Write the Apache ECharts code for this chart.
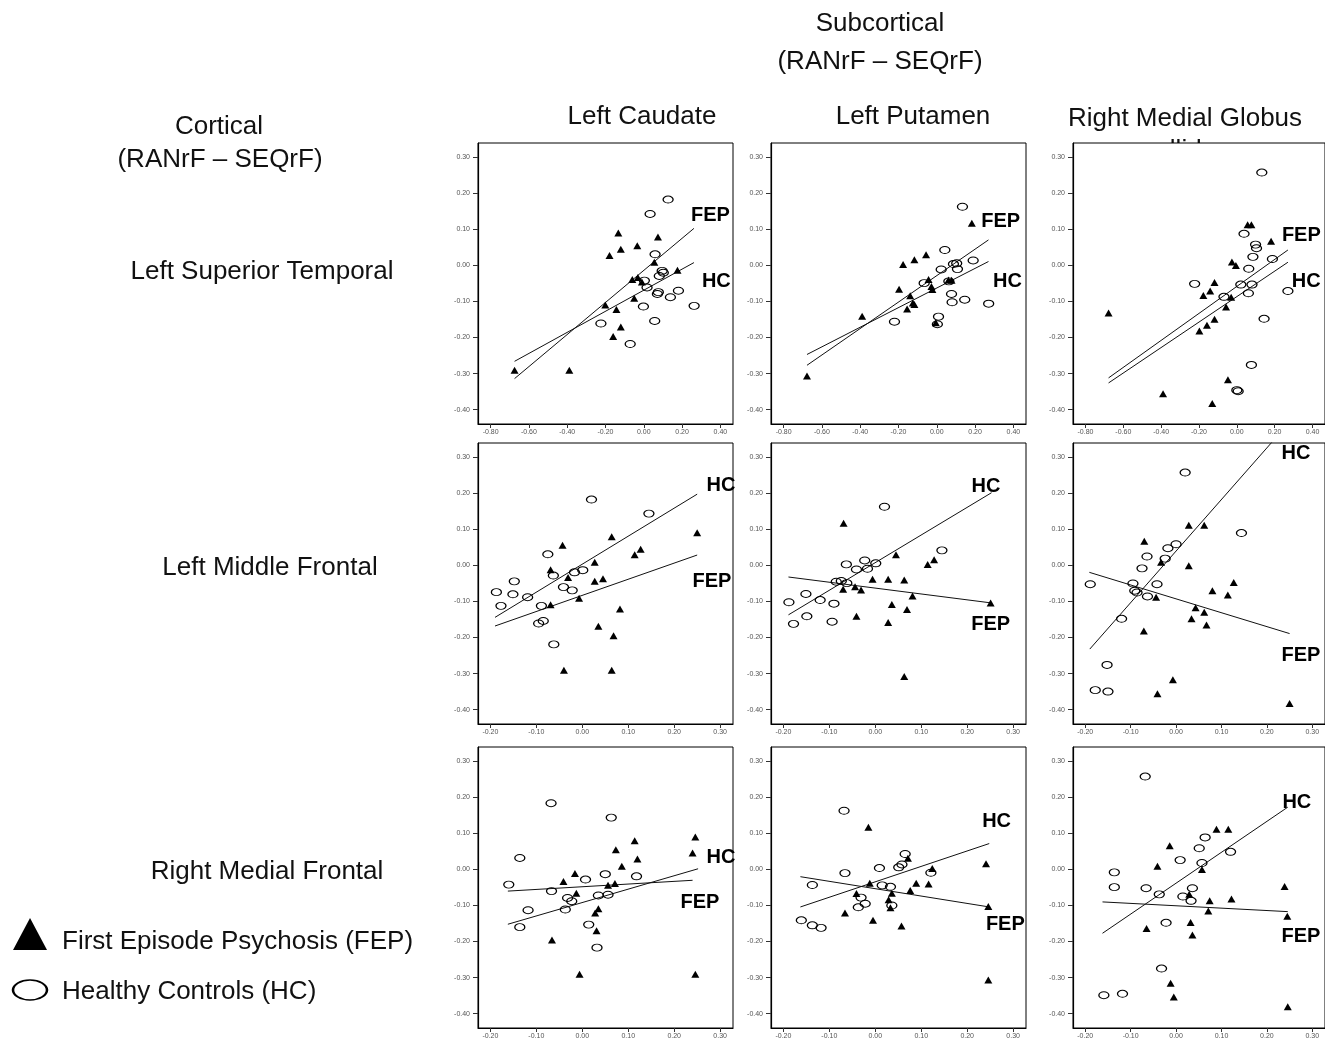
<!DOCTYPE html>
<html>
<head>
<meta charset="utf-8">
<title>FEP vs HC scatter</title>
<script src="https://cdn.jsdelivr.net/npm/echarts@6/dist/echarts.min.js"></script>
<style>
  html, body { margin: 0; padding: 0; background: #fff; }
  #chart { width: 1325px; height: 1042px; }
</style>
</head>
<body>
<div id="chart"></div>
<script type="text/javascript">
// row = cortical region (x), column = subcortical region (y)
var rowNames = ['Left Superior Temporal', 'Left Middle Frontal', 'Right Medial Frontal'];
var colNames = ['Left Caudate', 'Left Putamen', 'Right Medial Globus'];
var xTicksTop = [-0.8, -0.6, -0.4, -0.2, 0, 0.2, 0.4];
var xTicksLow = [-0.2, -0.1, 0, 0.1, 0.2, 0.3];
var yTicks = [-0.4, -0.3, -0.2, -0.1, 0, 0.1, 0.2, 0.3];

// Left Superior Temporal x Left Caudate
var fep_r1c1 = [[-0.675,-0.291],[-0.389,-0.291],[-0.133,0.090],[0.074,0.079],[-0.120,0.045],[-0.034,0.055],[-0.179,0.028],[0.055,0.009],[-0.060,-0.039],[-0.031,-0.033],[-0.010,-0.046],[0.176,-0.013],[-0.201,-0.110],[-0.143,-0.122],[-0.050,-0.091],[-0.120,-0.171],[-0.160,-0.197]];
var hc_r1c1 = [[0.127,0.183],[0.033,0.143],[0.059,0.031],[0.096,-0.015],[0.102,-0.020],[0.081,-0.029],[0.003,-0.042],[0.017,-0.061],[0.076,-0.074],[0.071,-0.079],[0.139,-0.088],[0.181,-0.070],[0.263,-0.112],[-0.002,-0.114],[-0.224,-0.161],[0.057,-0.154],[-0.071,-0.218]];
var fitFep_r1c1 = [[-0.675,-0.314],[0.262,0.103]];
var fitHc_r1c1 = [[-0.675,-0.266],[0.262,0.008]];
var tags_r1c1 = [['FEP',0.348,0.140],['HC',0.379,-0.044]];

// Left Superior Temporal x Left Putamen
var fep_r1c2 = [[-0.678,-0.307],[-0.390,-0.141],[0.183,0.117],[-0.176,0.003],[-0.117,0.016],[-0.056,0.030],[-0.197,-0.066],[-0.139,-0.084],[-0.043,-0.039],[-0.028,-0.058],[-0.023,-0.067],[-0.125,-0.104],[-0.117,-0.108],[-0.155,-0.121],[0.061,-0.040],[0.077,-0.041],[-0.005,-0.159]];
var hc_r1c2 = [[0.134,0.163],[0.042,0.043],[0.023,-0.011],[-0.066,-0.049],[0.087,0.004],[0.104,0.006],[0.108,-0.010],[0.190,0.014],[0.063,-0.044],[0.077,-0.079],[0.080,-0.102],[0.146,-0.095],[0.271,-0.106],[0.009,-0.142],[0.003,-0.163],[-0.221,-0.156]];
var fitFep_r1c2 = [[-0.678,-0.277],[0.270,0.071]];
var fitHc_r1c2 = [[-0.678,-0.247],[0.270,0.011]];
var tags_r1c2 = [['FEP',0.334,0.122],['HC',0.369,-0.044]];

// Left Superior Temporal x Right Medial Globus pallidus
var fep_r1c3 = [[-0.678,-0.132],[-0.390,-0.356],[-0.130,-0.383],[-0.047,-0.317],[0.057,0.113],[0.077,0.113],[0.181,0.067],[-0.026,0.010],[-0.005,0.000],[-0.118,-0.047],[-0.141,-0.071],[-0.177,-0.083],[-0.030,-0.088],[-0.057,-0.115],[-0.118,-0.149],[-0.158,-0.166],[-0.198,-0.182]];
var hc_r1c3 = [[0.132,0.258],[0.038,0.088],[0.099,0.058],[0.104,0.048],[0.085,0.024],[0.188,0.018],[0.063,-0.009],[0.021,-0.053],[0.080,-0.053],[0.061,-0.077],[0.270,-0.071],[-0.223,-0.051],[-0.068,-0.087],[0.144,-0.148],[0.077,-0.276],[0.000,-0.346],[0.007,-0.349]];
var fitFep_r1c3 = [[-0.678,-0.312],[0.270,0.043]];
var fitHc_r1c3 = [[-0.678,-0.326],[0.270,0.009]];
var tags_r1c3 = [['FEP',0.341,0.083],['HC',0.367,-0.044]];

// Left Middle Frontal x Left Caudate
var fep_r2c1 = [[0.250,0.091],[0.064,0.080],[-0.043,0.056],[0.127,0.045],[0.114,0.030],[-0.069,-0.012],[0.027,0.009],[-0.031,-0.033],[0.027,-0.044],[0.045,-0.037],[-0.007,-0.091],[-0.069,-0.109],[0.082,-0.121],[0.035,-0.169],[0.068,-0.195],[-0.040,-0.291],[0.064,-0.291]];
var hc_r2c1 = [[0.020,0.183],[0.145,0.144],[-0.075,0.031],[-0.063,-0.028],[-0.017,-0.019],[0.001,-0.013],[-0.041,-0.060],[-0.022,-0.069],[-0.148,-0.044],[-0.187,-0.074],[-0.151,-0.080],[-0.119,-0.088],[-0.177,-0.112],[-0.089,-0.112],[-0.095,-0.161],[-0.085,-0.154],[-0.062,-0.219]];
var fitFep_r2c1 = [[-0.190,-0.168],[0.250,0.029]];
var fitHc_r2c1 = [[-0.190,-0.144],[0.250,0.198]];
var tags_r2c1 = [['HC',0.302,0.221],['FEP',0.282,-0.044]];

// Left Middle Frontal x Left Putamen
var fep_r2c2 = [[-0.069,0.117],[0.045,0.030],[0.114,0.003],[0.128,0.016],[-0.006,-0.038],[0.028,-0.038],[0.063,-0.040],[-0.044,-0.059],[-0.070,-0.066],[-0.031,-0.068],[0.081,-0.085],[0.036,-0.108],[0.069,-0.122],[0.251,-0.104],[-0.041,-0.141],[0.028,-0.158],[0.063,-0.308]];
var hc_r2c2 = [[0.020,0.163],[0.145,0.042],[-0.023,0.014],[-0.063,0.003],[0.001,0.006],[-0.041,-0.011],[-0.017,-0.009],[-0.085,-0.045],[-0.074,-0.043],[-0.062,-0.049],[-0.151,-0.079],[-0.188,-0.102],[-0.120,-0.096],[-0.090,-0.106],[-0.149,-0.141],[-0.094,-0.156],[-0.178,-0.162]];
var fitFep_r2c2 = [[-0.189,-0.032],[0.253,-0.104]];
var fitHc_r2c2 = [[-0.189,-0.137],[0.253,0.202]];
var tags_r2c2 = [['HC',0.241,0.220],['FEP',0.251,-0.163]];

// Left Middle Frontal x Right Medial Globus pallidus
var fep_r2c3 = [[0.028,0.112],[0.062,0.112],[-0.070,0.067],[-0.033,0.009],[0.028,-0.001],[0.127,-0.047],[0.080,-0.070],[0.114,-0.082],[-0.044,-0.088],[0.043,-0.117],[0.062,-0.130],[0.034,-0.148],[0.067,-0.165],[-0.071,-0.182],[-0.007,-0.317],[-0.041,-0.356],[0.250,-0.383]];
var hc_r2c3 = [[0.020,0.258],[0.144,0.090],[0.000,0.059],[-0.018,0.048],[-0.064,0.025],[-0.024,0.019],[-0.075,-0.008],[-0.095,-0.050],[-0.042,-0.052],[-0.189,-0.052],[-0.091,-0.070],[-0.086,-0.075],[-0.063,-0.086],[-0.120,-0.148],[-0.152,-0.276],[-0.178,-0.346],[-0.150,-0.350]];
var fitFep_r2c3 = [[-0.191,-0.019],[0.250,-0.189]];
var fitHc_r2c3 = [[-0.190,-0.232],[0.250,0.398]];
var tags_r2c3 = [['HC',0.264,0.311],['FEP',0.275,-0.249]];

// Right Medial Frontal x Left Caudate
var fep_r3c1 = [[0.246,0.090],[0.240,0.046],[0.246,-0.291],[0.114,0.080],[0.073,0.055],[0.120,0.029],[0.086,0.009],[-0.016,-0.011],[-0.041,-0.033],[0.056,-0.044],[0.071,-0.039],[-0.013,-0.066],[0.035,-0.109],[0.028,-0.121],[0.031,-0.170],[-0.066,-0.196],[-0.006,-0.291]];
var hc_r3c1 = [[-0.068,0.184],[0.063,0.144],[-0.136,0.032],[-0.160,-0.042],[-0.067,-0.060],[0.007,-0.028],[0.050,-0.013],[0.118,-0.019],[-0.032,-0.079],[-0.023,-0.088],[0.035,-0.072],[0.056,-0.070],[-0.118,-0.113],[-0.037,-0.111],[-0.136,-0.160],[0.014,-0.153],[0.032,-0.217]];
var fitFep_r3c1 = [[-0.162,-0.060],[0.240,-0.030]];
var fitHc_r3c1 = [[-0.162,-0.152],[0.252,0.002]];
var tags_r3c1 = [['HC',0.302,0.032],['FEP',0.256,-0.092]];

// Right Medial Frontal x Left Putamen
var fep_r3c2 = [[-0.015,0.117],[0.071,0.031],[0.124,0.003],[0.241,0.016],[0.089,-0.038],[0.116,-0.040],[-0.012,-0.038],[0.076,-0.058],[-0.041,-0.067],[0.036,-0.066],[0.029,-0.084],[0.033,-0.106],[0.246,-0.103],[-0.066,-0.121],[-0.005,-0.141],[0.057,-0.157],[0.246,-0.307]];
var hc_r3c2 = [[-0.068,0.163],[0.065,0.043],[0.058,0.014],[0.051,0.006],[0.009,0.004],[-0.066,-0.010],[0.121,-0.009],[-0.137,-0.043],[0.015,-0.044],[0.033,-0.048],[0.036,-0.100],[-0.031,-0.078],[-0.022,-0.095],[-0.037,-0.105],[-0.161,-0.141],[-0.137,-0.155],[-0.118,-0.162]];
var fitFep_r3c2 = [[-0.163,-0.020],[0.248,-0.104]];
var fitHc_r3c2 = [[-0.163,-0.104],[0.248,0.072]];
var tags_r3c2 = [['HC',0.264,0.134],['FEP',0.283,-0.152]];

// Right Medial Frontal x Right Medial Globus pallidus
var fep_r3c3 = [[0.089,0.112],[0.115,0.112],[-0.014,0.066],[-0.041,0.009],[0.057,0.000],[0.239,-0.047],[0.029,-0.069],[0.074,-0.087],[0.122,-0.082],[0.071,-0.115],[0.245,-0.130],[0.032,-0.147],[-0.065,-0.164],[0.036,-0.182],[-0.012,-0.316],[-0.005,-0.354],[0.246,-0.381]];
var hc_r3c3 = [[-0.068,0.258],[0.064,0.089],[0.051,0.059],[0.120,0.049],[0.009,0.026],[0.057,0.018],[-0.136,-0.008],[-0.136,-0.049],[-0.066,-0.052],[0.036,-0.052],[-0.037,-0.069],[0.015,-0.075],[0.033,-0.087],[-0.022,-0.148],[-0.032,-0.275],[-0.118,-0.345],[-0.159,-0.349]];
var fitFep_r3c3 = [[-0.162,-0.090],[0.246,-0.117]];
var fitHc_r3c3 = [[-0.162,-0.177],[0.246,0.173]];
var tags_r3c3 = [['HC',0.266,0.185],['FEP',0.275,-0.185]];

var panels = [
    [fep_r1c1, hc_r1c1, fitFep_r1c1, fitHc_r1c1, tags_r1c1],
    [fep_r1c2, hc_r1c2, fitFep_r1c2, fitHc_r1c2, tags_r1c2],
    [fep_r1c3, hc_r1c3, fitFep_r1c3, fitHc_r1c3, tags_r1c3],
    [fep_r2c1, hc_r2c1, fitFep_r2c1, fitHc_r2c1, tags_r2c1],
    [fep_r2c2, hc_r2c2, fitFep_r2c2, fitHc_r2c2, tags_r2c2],
    [fep_r2c3, hc_r2c3, fitFep_r2c3, fitHc_r2c3, tags_r2c3],
    [fep_r3c1, hc_r3c1, fitFep_r3c1, fitHc_r3c1, tags_r3c1],
    [fep_r3c2, hc_r3c2, fitFep_r3c2, fitHc_r3c2, tags_r3c2],
    [fep_r3c3, hc_r3c3, fitFep_r3c3, fitHc_r3c3, tags_r3c3]
];

var FONT = '"Liberation Sans", Arial, Helvetica, sans-serif';
var gridLeft = [478, 771, 1073];
var gridTop = [143, 443, 747];
var W = 255, H = 281;
var ellipse = 'path://M0,5A8,5 0 1,1 16,5A8,5 0 1,1 0,5Z';

var myChart = echarts.init(document.getElementById('chart'));

var grids = [], xAxes = [], yAxes = [], series = [];
function fmt(v) { return (Math.abs(v) < 1e-9 ? 0 : v).toFixed(2); }

panels.forEach(function (p, i) {
    var r = Math.floor(i / 3), c = i % 3;
    grids.push({
        left: gridLeft[c], top: gridTop[r], width: W, height: H,
        show: true, borderColor: '#000', borderWidth: 1, backgroundColor: '#fff'
    });
    var xt = r === 0 ? xTicksTop : xTicksLow;
    xAxes.push({
        type: 'value', gridIndex: i,
        min: r === 0 ? -0.866 : -0.227,
        max: r === 0 ? 0.466 : 0.328,
        axisLine: { show: true, onZero: false, lineStyle: { color: '#000', width: 1.2 } },
        axisTick: { show: true, customValues: xt, length: 4, lineStyle: { color: '#333' } },
        axisLabel: { customValues: xt, formatter: fmt, fontSize: 7, color: '#555', margin: 5, fontFamily: FONT },
        splitLine: { show: false }
    });
    yAxes.push({
        type: 'value', gridIndex: i, min: -0.44, max: 0.34,
        axisLine: { show: true, onZero: false, lineStyle: { color: '#000', width: 1.2 } },
        axisTick: { show: true, customValues: yTicks, length: 5, lineStyle: { color: '#333' } },
        axisLabel: { customValues: yTicks, formatter: fmt, fontSize: 7, color: '#555', margin: 8, fontFamily: FONT },
        splitLine: { show: false }
    });
    series.push({
        name: 'FEP', type: 'scatter', xAxisIndex: i, yAxisIndex: i,
        symbol: 'triangle', symbolSize: [8, 7],
        itemStyle: { color: '#000', opacity: 1 }, data: p[0], z: 3
    });
    series.push({
        name: 'HC', type: 'scatter', xAxisIndex: i, yAxisIndex: i,
        symbol: ellipse, symbolSize: [10, 7],
        itemStyle: { color: 'rgba(0,0,0,0)', borderColor: '#000', borderWidth: 1.1, opacity: 1 }, data: p[1], z: 3
    });
    [p[2], p[3]].forEach(function (fit) {
        series.push({
            type: 'line', xAxisIndex: i, yAxisIndex: i, data: fit,
            symbol: 'none', silent: true, clip: true,
            lineStyle: { color: '#111', width: 1 }, z: 2
        });
    });
    series.push({
        type: 'scatter', xAxisIndex: i, yAxisIndex: i, symbolSize: 0, silent: true, clip: false,
        itemStyle: { opacity: 1 },
        data: p[4].map(function (t) { return { name: t[0], value: [t[1], t[2]] }; }),
        label: {
            show: true, position: 'inside', formatter: '{b}', opacity: 1,
            fontSize: 20, fontWeight: 'bold', color: '#000', fontFamily: FONT
        }, z: 4
    });
});

function txt(s, x, y, extra) {
    var el = {
        type: 'text', x: x, y: y,
        style: {
            text: s, fill: '#111', font: '26px ' + FONT,
            textAlign: 'center', align: 'center', textVerticalAlign: 'middle', verticalAlign: 'middle'
        }
    };
    if (extra) { for (var k in extra) el[k] = extra[k]; }
    return el;
}

var graphics = [
    txt('Subcortical', 880, 24),
    txt('(RANrF \u2013 SEQrF)', 880, 62),
    txt('Cortical', 219, 127),
    txt('(RANrF \u2013 SEQrF)', 220, 160),
    txt(colNames[0], 642, 117),
    txt(colNames[1], 913, 117),
    txt(colNames[2], 1185, 119),
    txt('pallidus', 1185, 151, { z: -5 }),
    txt(rowNames[0], 262, 272),
    txt(rowNames[1], 270, 568),
    txt(rowNames[2], 267, 872),
    {
        type: 'polygon',
        shape: { points: [[13, 950], [30, 918], [47, 950]] },
        style: { fill: '#000' }
    },
    {
        type: 'circle', x: 30, y: 990, scaleX: 1.7, scaleY: 1,
        shape: { cx: 0, cy: 0, r: 10 },
        style: { fill: 'none', stroke: '#000', lineWidth: 1.5, strokeNoScale: true }
    },
    {
        type: 'text', x: 62, y: 942,
        style: { text: 'First Episode Psychosis (FEP)', fill: '#111', font: '26px ' + FONT, textVerticalAlign: 'middle', verticalAlign: 'middle' }
    },
    {
        type: 'text', x: 62, y: 992,
        style: { text: 'Healthy Controls (HC)', fill: '#111', font: '26px ' + FONT, textVerticalAlign: 'middle', verticalAlign: 'middle' }
    }
];

myChart.setOption({
    animation: false,
    backgroundColor: '#fff',
    grid: grids,
    xAxis: xAxes,
    yAxis: yAxes,
    series: series,
    graphic: graphics
});
</script>
</body>
</html>
